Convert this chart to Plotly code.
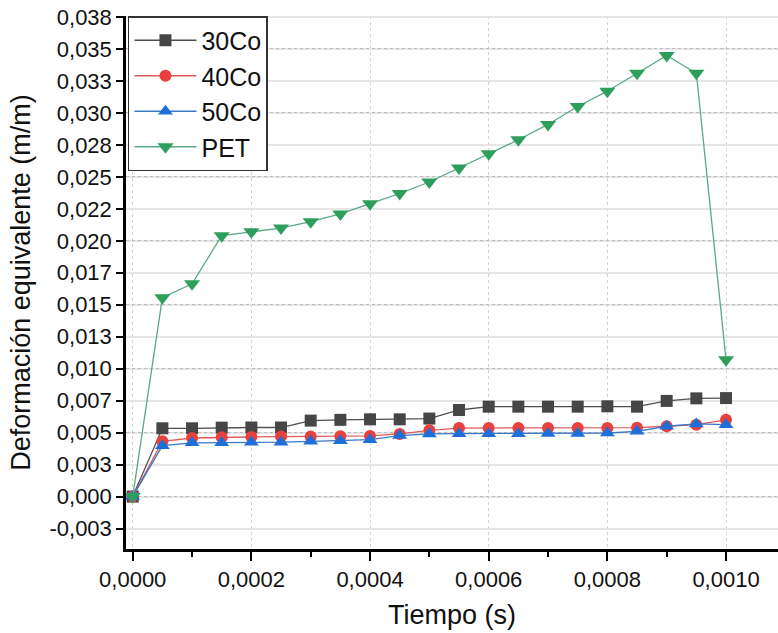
import plotly.graph_objects as go

tiempo = [0.0, 0.00005, 0.0001, 0.00015, 0.0002, 0.00025, 0.0003, 0.00035, 0.0004, 0.00045,
          0.0005, 0.00055, 0.0006, 0.00065, 0.0007, 0.00075, 0.0008, 0.00085, 0.0009, 0.00095, 0.001]

co30 = [0.0, 0.00534, 0.00534, 0.00539, 0.0054, 0.0054, 0.00594, 0.0060, 0.00604, 0.00604,
        0.0061, 0.00677, 0.00703, 0.00703, 0.00703, 0.00703, 0.00706, 0.00703, 0.00748, 0.00768, 0.0077]
co40 = [0.0, 0.00432, 0.00458, 0.00464, 0.00466, 0.00469, 0.00469, 0.00471, 0.00474, 0.0049,
        0.00518, 0.00536, 0.00536, 0.00536, 0.00536, 0.00536, 0.00536, 0.00539, 0.0055, 0.00562, 0.0060]
co50 = [0.0, 0.00398, 0.0042, 0.0042, 0.00425, 0.00425, 0.00432, 0.00437, 0.00445, 0.00477,
        0.0049, 0.00492, 0.00492, 0.00492, 0.00494, 0.00494, 0.00497, 0.0051, 0.0055, 0.00568, 0.00562]
pet = [0.0, 0.01555, 0.01664, 0.0204, 0.0207, 0.0210, 0.0215, 0.0221, 0.0229, 0.0237,
       0.0246, 0.0257, 0.0268, 0.0279, 0.0291, 0.0305, 0.0317, 0.0331, 0.0345, 0.0331, 0.0107]

x_ticks = [0.0, 0.0002, 0.0004, 0.0006, 0.0008, 0.001]
x_labels = ["0,0000", "0,0002", "0,0004", "0,0006", "0,0008", "0,0010"]
y_ticks = [-0.0025, 0.0, 0.0025, 0.005, 0.0075, 0.01, 0.0125, 0.015, 0.0175, 0.02,
           0.0225, 0.025, 0.0275, 0.03, 0.0325, 0.035, 0.0375]
y_labels = ["-0,003", "0,000", "0,003", "0,005", "0,007", "0,010", "0,013", "0,015", "0,017", "0,020",
            "0,022", "0,025", "0,028", "0,030", "0,033", "0,035", "0,038"]
y_major_grid = [-0.005, 0.0, 0.005, 0.01, 0.015, 0.02, 0.025, 0.03, 0.035]

series = [
    ("30Co", co30, "square", "#464646", "#4f4f4f", 12),
    ("40Co", co40, "circle", "#e8403d", "#e05a5a", 12),
    ("50Co", co50, "triangle-up", "#1f6fd8", "#3a78c8", 13),
    ("PET", pet, "triangle-down", "#2e9e5c", "#5aa888", 14),
]

fig = go.Figure()
for name, vals, sym, mcol, lcol, msize in series:
    fig.add_trace(go.Scatter(
        x=tiempo, y=vals, name=name, mode="lines+markers",
        line=dict(color=lcol, width=1.3),
        marker=dict(symbol=sym, color=mcol, size=msize, line=dict(width=0)),
    ))

# invisible trace to carry the darker dotted grid
fig.add_trace(go.Scatter(x=[tiempo[0]], y=[co30[0]], yaxis="y2", showlegend=False,
                         mode="markers", marker=dict(opacity=0), hoverinfo="skip"))

yr = [-0.0041, 0.03758]
fig.update_layout(
    width=778, height=633,
    margin=dict(l=126, r=0, t=16, b=84),
    paper_bgcolor="white", plot_bgcolor="white",
    font=dict(family="Arial, Liberation Sans, sans-serif", color="#111111"),
    showlegend=True,
    legend=dict(
        x=0.003, y=1.0, xanchor="left", yanchor="top",
        bgcolor="white", bordercolor="#333333", borderwidth=1.5,
        font=dict(size=25, color="#111111"),
        itemwidth=62, tracegroupgap=0,
    ),
    xaxis=dict(
        range=[-0.0000113, 0.0010876],
        tickvals=x_ticks, ticktext=x_labels,
        ticks="outside", ticklen=9, tickwidth=2, tickcolor="black",
        tickfont=dict(size=22),
        showline=True, linecolor="black", linewidth=2.5,
        showgrid=True, gridcolor="#d4d4d4", gridwidth=1, griddash="dot",
        zeroline=False,
        minor=dict(tickvals=[0.0001, 0.0003, 0.0005, 0.0007, 0.0009],
                   ticks="outside", ticklen=5, tickwidth=2, tickcolor="black", showgrid=False),
        title=dict(text="Tiempo (s)", font=dict(size=27), standoff=14),
    ),
    yaxis=dict(
        range=yr,
        tickvals=y_ticks, ticktext=y_labels,
        ticks="outside", ticklen=7, tickwidth=2, tickcolor="black",
        tickfont=dict(size=22),
        showline=True, linecolor="black", linewidth=2.5,
        showgrid=True, gridcolor="#e6e6e6", gridwidth=1.5,
        zeroline=False,
        title=dict(text="Deformación equivalente (m/m)", font=dict(size=27), standoff=12),
    ),
    yaxis2=dict(
        range=yr, overlaying="y", side="left",
        tickvals=y_major_grid, showticklabels=False, ticks="",
        showgrid=True, gridcolor="#bdbdbd", gridwidth=1, griddash="dot",
        showline=False, zeroline=False,
    ),
)

fig.write_html("out.html")
